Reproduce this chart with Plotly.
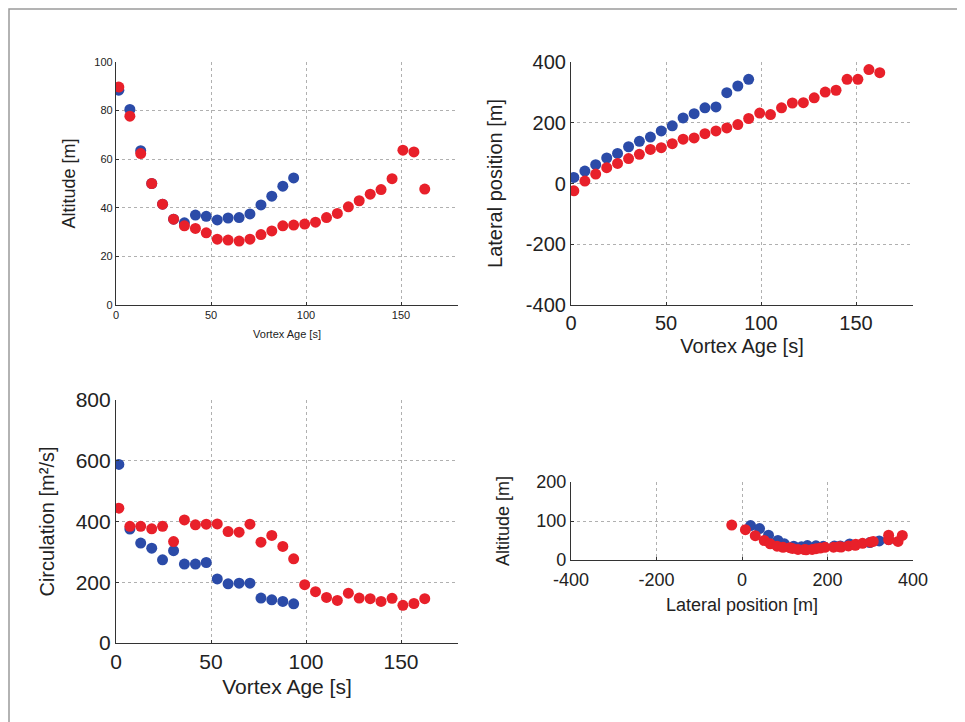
import plotly.graph_objects as go

# ---- data ----
age_red = [1.5, 7.3, 13.0, 18.8, 24.5, 30.3, 36.0, 41.8, 47.5, 53.3, 59.0, 64.8, 70.5, 76.3,
           82.0, 87.8, 93.5, 99.3, 105.0, 110.8, 116.5, 122.3, 128.0, 133.8, 139.5, 145.3,
           151.0, 156.8, 162.5]
age_blue = [1.5, 7.3, 13.0, 18.8, 24.5, 30.3, 36.0, 41.8, 47.5, 53.3, 59.0, 64.8, 70.5, 76.3,
            82.0, 87.8, 93.5]

alt_red = [89.7, 77.7, 62.3, 50.0, 41.5, 35.3, 32.6, 31.5, 29.7, 27.1, 26.7, 26.3, 27.1, 29.0,
           30.5, 32.6, 32.9, 33.3, 34.1, 36.0, 37.7, 40.4, 42.9, 45.6, 47.5, 52.0, 63.7, 63.0, 47.7]
alt_blue = [88.4, 80.5, 63.5, 50.0, 41.5, 35.3, 33.8, 37.0, 36.5, 35.0, 35.8, 36.0, 37.5, 41.2,
            44.8, 48.9, 52.3]

lat_red = [-24, 8, 31, 52, 66, 82, 96, 112, 118, 131, 146, 150, 164, 173, 183, 194, 214, 232,
           227, 249, 265, 266, 282, 301, 307, 343, 343, 375, 365]
lat_blue = [20, 41, 62, 84, 99, 121, 139, 153, 173, 190, 216, 230, 249, 252, 299, 321, 343]

circ_red = [444, 384, 384, 376, 384, 334, 405, 389, 391, 392, 367, 365, 391, 332, 354, 318, 277,
            192, 169, 150, 140, 164, 148, 146, 137, 147, 124, 130, 146]
circ_blue = [588, 375, 329, 312, 274, 304, 260, 260, 265, 211, 195, 197, 197, 148, 142, 137, 129]

# tick labels
age_ticks = [0, 50, 100, 150]
alt_ticks = [0, 20, 40, 60, 80, 100]
lat_ticks = [-400, -200, 0, 200, 400]
circ_ticks = [0, 200, 400, 600, 800]
alt2_ticks = [0, 100, 200]

RED = "#e8202a"
BLUE = "#2b4ba8"
W, H = 965, 722
OFF = 8  # page body margin

def px_x(a, b):
    return [(a - OFF) / W, (b - OFF) / W]

def px_y(top, bottom):
    return [1 - (bottom - OFF) / H, 1 - (top - OFF) / H]

fig = go.Figure()

def pts(x, y, color, xa, ya):
    fig.add_trace(go.Scatter(x=x, y=y, mode="markers", xaxis=xa, yaxis=ya,
                             marker=dict(color=color, size=11, line=dict(width=0)),
                             showlegend=False, hoverinfo="x+y"))

# top-left: altitude vs age
pts(age_blue, alt_blue, BLUE, "x", "y")
pts(age_red, alt_red, RED, "x", "y")
# top-right: lateral vs age
pts(age_blue, lat_blue, BLUE, "x2", "y2")
pts(age_red, lat_red, RED, "x2", "y2")
# bottom-left: circulation vs age
pts(age_blue, circ_blue, BLUE, "x3", "y3")
pts(age_red, circ_red, RED, "x3", "y3")
# bottom-right: altitude vs lateral
pts(lat_blue, alt_blue, BLUE, "x4", "y4")
pts(lat_red, alt_red, RED, "x4", "y4")

FONT = "Liberation Sans, Arial, sans-serif"
TXT = "#222222"

def ax(domain, rng, ticks, anchor, tsize, title, titlesize, standoff, lblstand=0):
    return dict(domain=domain, range=rng, tickmode="array", tickvals=ticks,
                ticktext=[str(t) for t in ticks], anchor=anchor, automargin=False,
                showline=True, linecolor="#333333", linewidth=1.2, mirror=False,
                showgrid=True, gridcolor="#b0b0b0", griddash="dot", gridwidth=1,
                zeroline=False, ticks="inside", ticklen=3, tickcolor="#333333",
                ticklabelstandoff=lblstand,
                tickfont=dict(family=FONT, size=tsize, color=TXT),
                title=dict(text=title, font=dict(family=FONT, size=titlesize, color=TXT),
                           standoff=standoff),
                fixedrange=True)

layout = dict(
    width=W, height=H, margin=dict(l=0, r=0, t=0, b=0, autoexpand=False),
    paper_bgcolor="white", plot_bgcolor="white",
    xaxis=ax(px_x(116, 458), [0, 180], age_ticks, "y", 11, "Vortex Age [s]", 11, 10),
    yaxis=ax(px_y(62, 305), [0, 100], alt_ticks, "x", 11, "Altitude [m]", 18, 14),
    xaxis2=ax(px_x(571, 913), [0, 180], age_ticks, "y2", 20, "Vortex Age [s]", 20, 5),
    yaxis2=ax(px_y(62, 305), [-400, 400], lat_ticks, "x2", 20, "Lateral position [m]", 20, 17),
    xaxis3=ax(px_x(116, 458), [0, 180], age_ticks, "y3", 21, "Vortex Age [s]", 21, 7),
    yaxis3=ax(px_y(400, 643), [0, 800], circ_ticks, "x3", 21, "Circulation [m²/s]", 20, 15),
    xaxis4=ax(px_x(571, 913), [-400, 400], lat_ticks, "y4", 18, "Lateral position [m]", 18, 9, 3),
    yaxis4=ax(px_y(482, 560), [0, 200], alt2_ticks, "x4", 18, "Altitude [m]", 18, 21),
    shapes=[dict(type="rect", xref="paper", yref="paper",
                 x0=(9 - OFF) / W, x1=1.05, y0=-0.05, y1=1 - (9 - OFF) / H,
                 line=dict(color="#9a9a9a", width=1.5), fillcolor="rgba(0,0,0,0)")],
)
fig.update_layout(**layout)

fig.write_html("out.html")
